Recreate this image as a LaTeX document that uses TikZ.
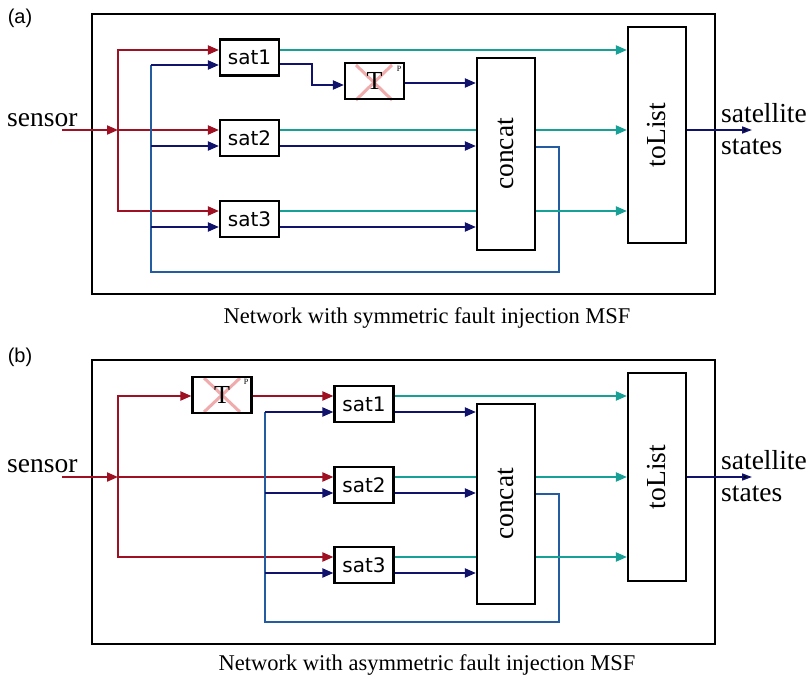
\documentclass[tikz,border=0pt]{standalone}
\usepackage{fontspec}
\setmainfont{Liberation Serif}
\newfontfamily\labsans{Liberation Sans}
\newfontfamily\satsans{DejaVu Sans}
\usetikzlibrary{arrows.meta}
\definecolor{cred}{RGB}{158,16,34}
\definecolor{cnavy}{RGB}{16,18,108}
\definecolor{cteal}{RGB}{22,160,150}
\definecolor{cfb}{RGB}{36,92,162}
\definecolor{cpink}{RGB}{240,172,172}
\tikzset{
  tip/.style={-{Triangle[length=11pt,width=9pt]}},
  redln/.style={draw=cred,line width=2pt},
  navyln/.style={draw=cnavy,line width=2pt},
  tealln/.style={draw=cteal,line width=2pt},
  fbln/.style={draw=cfb,line width=1.6pt},
  outerbox/.style={draw=black,line width=2.2pt},
  satbox/.style={draw=black,line width=2.2pt,fill=white,minimum width=59pt,minimum height=36pt,inner sep=0pt,font=\satsans\fontsize{20}{22}\selectfont},
  tbox/.style={draw=black,line width=2.2pt,minimum width=59pt,minimum height=36pt,inner sep=0pt,font=\fontsize{26}{28}\selectfont},
  tallbox/.style={draw=black,line width=2.2pt,fill=white,minimum width=58pt,inner sep=0pt,font=\fontsize{27.5}{30}\selectfont},
  serifbig/.style={font=\fontsize{27.5}{32}\selectfont,inner sep=0pt},
  captext/.style={font=\fontsize{22.5}{24}\selectfont,inner sep=0pt},
  panellab/.style={font=\labsans\fontsize{20}{22}\selectfont,inner sep=0pt},
  supp/.style={font=\fontsize{8}{8}\selectfont,inner sep=0pt},
  cross/.style={draw=cpink,line width=3pt},
}
\begin{document}
\begin{tikzpicture}[x=1pt,y=-1pt]
\useasboundingbox[fill=white] (0,0) rectangle (811,677);

%%%%%%%%%%%%%%%%%%%% Panel (a)
\node[panellab] (labA) at (20,18) {(a)};
\draw[outerbox] (92,14) rectangle (715,294);
\node[serifbig,anchor=base west] (sensA) at (7,126) {sensor};
\node[captext,anchor=base] (capA) at (427,323) {Network with symmetric fault injection MSF};

\node[satbox] (s1A) at (249.5,57.5) {sat1};
\node[satbox] (s2A) at (249.5,138) {sat2};
\node[satbox] (s3A) at (249.5,219) {sat3};
\draw[cross] (356,65) -- (392,100);
\draw[cross] (392,65) -- (356,100);
\node[tbox] (TA) at (374.5,81) {T};
\node[supp] (pA) at (399,69) {P};
\node[tallbox,minimum height=192pt] (cA) at (506,154) {\rotatebox{90}{concat}};
\node[tallbox,minimum height=216pt] (tA) at (657,135) {\rotatebox{90}{toList}};
\node[serifbig,anchor=west,align=left] (outA) at (721,129) {satellite\\states};

\coordinate (inA) at (62,130);
\coordinate (jA) at (118,130);
\coordinate (bA) at (151,272);
\coordinate (fA) at (559,272);
% sensor input and red distribution
\draw[redln,tip] (inA) -- (jA);
\draw[redln,tip] (jA) |- (s1A.west |- 0,50);
\draw[redln,tip] (jA) -- (s2A.west |- 0,130);
\draw[redln,tip] (jA) |- (s3A.west |- 0,211);
% feedback loop
\draw[fbln] (cA.east |- 0,147) -| (fA) -- (bA) -- (151,65);
\draw[navyln,tip] (bA |- 0,65) -- (s1A.west |- 0,65);
\draw[navyln,tip] (bA |- 0,146) -- (s2A.west |- 0,146);
\draw[navyln,tip] (bA |- 0,227) -- (s3A.west |- 0,227);
% sat outputs
\draw[tealln,tip] (s1A.east |- 0,50) -- (tA.west |- 0,50);
\draw[tealln] (s2A.east |- 0,130) -- (cA.west |- 0,130);
\draw[tealln,tip] (cA.east |- 0,130) -- (tA.west |- 0,130);
\draw[tealln] (s3A.east |- 0,211) -- (cA.west |- 0,211);
\draw[tealln,tip] (cA.east |- 0,211) -- (tA.west |- 0,211);
\draw[navyln,tip] (s1A.east |- 0,64) -| (312,85) -- (TA.west |- 0,85);
\draw[navyln,tip] (TA.east |- 0,83) -- (cA.west |- 0,83);
\draw[navyln,tip] (s2A.east |- 0,146) -- (cA.west |- 0,146);
\draw[navyln,tip] (s3A.east |- 0,227) -- (cA.west |- 0,227);
% output
\draw[draw=cnavy,line width=1.6pt,-{Triangle[length=10pt,width=7pt,fill=black]}] (tA.east |- 0,130) -- (752,130);

%%%%%%%%%%%%%%%%%%%% Panel (b)
\node[panellab] (labB) at (20,357) {(b)};
\draw[outerbox] (92,360) rectangle (715,644);
\node[serifbig,anchor=base west] (sensB) at (7,472) {sensor};
\node[captext,anchor=base] (capB) at (427,670) {Network with asymmetric fault injection MSF};

\draw[cross] (204,378) -- (240,412);
\draw[cross] (240,378) -- (204,412);
\node[tbox] (TB) at (222,395) {T};
\node[supp] (pB) at (246,382) {P};
\node[satbox] (s1B) at (364,404) {sat1};
\node[satbox] (s2B) at (364,485) {sat2};
\node[satbox] (s3B) at (364,565) {sat3};
\node[tallbox,minimum height=200pt] (cB) at (506,504) {\rotatebox{90}{concat}};
\node[tallbox,minimum height=208pt] (tB) at (657,477) {\rotatebox{90}{toList}};
\node[serifbig,anchor=west,align=left] (outB) at (721,476) {satellite\\states};

\coordinate (inB) at (62,477);
\coordinate (jB) at (118,477);
\coordinate (bB) at (265,622);
\coordinate (fB) at (559,622);
\draw[redln,tip] (inB) -- (jB);
\draw[redln,tip] (jB) |- (TB.west |- 0,396);
\draw[redln,tip] (TB.east |- 0,396) -- (s1B.west |- 0,396);
\draw[redln,tip] (jB) -- (s2B.west |- 0,477);
\draw[redln,tip] (jB) |- (s3B.west |- 0,557);
\draw[fbln] (cB.east |- 0,494) -| (fB) -- (bB) -- (265,412);
\draw[navyln,tip] (bB |- 0,412) -- (s1B.west |- 0,412);
\draw[navyln,tip] (bB |- 0,493) -- (s2B.west |- 0,493);
\draw[navyln,tip] (bB |- 0,573) -- (s3B.west |- 0,573);
\draw[tealln,tip] (s1B.east |- 0,396) -- (tB.west |- 0,396);
\draw[tealln] (s2B.east |- 0,477) -- (cB.west |- 0,477);
\draw[tealln,tip] (cB.east |- 0,477) -- (tB.west |- 0,477);
\draw[tealln] (s3B.east |- 0,557) -- (cB.west |- 0,557);
\draw[tealln,tip] (cB.east |- 0,557) -- (tB.west |- 0,557);
\draw[navyln,tip] (s1B.east |- 0,412) -- (cB.west |- 0,412);
\draw[navyln,tip] (s2B.east |- 0,493) -- (cB.west |- 0,493);
\draw[navyln,tip] (s3B.east |- 0,573) -- (cB.west |- 0,573);
\draw[draw=cnavy,line width=1.6pt,-{Triangle[length=10pt,width=7pt,fill=black]}] (tB.east |- 0,477) -- (752,477);
\end{tikzpicture}
\end{document}
